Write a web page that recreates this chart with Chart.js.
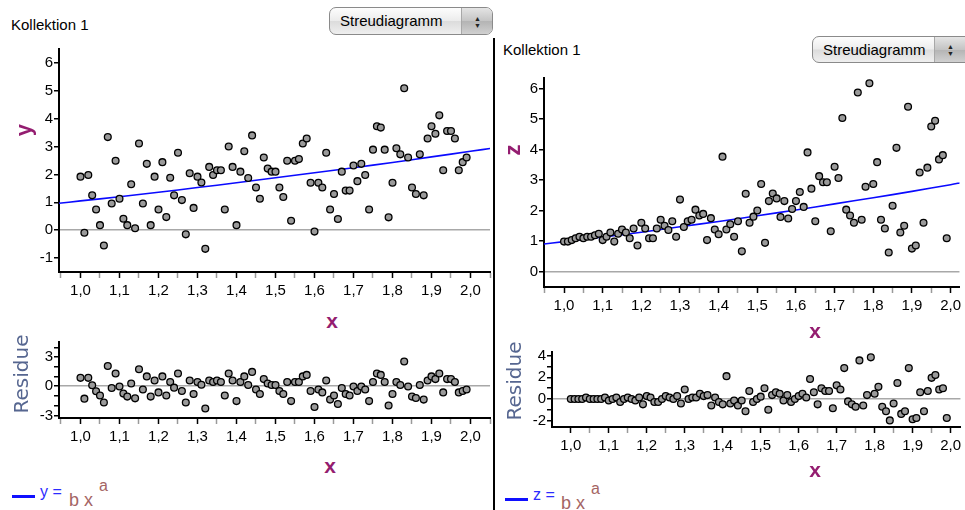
<!DOCTYPE html>
<html>
<head>
<meta charset="utf-8">
<script src="https://cdn.jsdelivr.net/npm/chart.js@4.4.0/dist/chart.umd.min.js"></script>
<style>
  body { margin: 0; width: 965px; height: 510px; position: relative; overflow: hidden; background: #fff;
         font-family: "Liberation Sans", Arial, sans-serif; }
  canvas { position: absolute; }
  .t { position: absolute; white-space: nowrap; line-height: 1; }
  .ctr { position: absolute; white-space: nowrap; line-height: 1; transform: translate(-50%, -50%); }
  .rot { position: absolute; white-space: nowrap; line-height: 1; transform: translate(-50%, -50%) rotate(-90deg); }
  .axt { font-weight: bold; font-size: 21px; color: #941d70; }
  .res { font-family: "DejaVu Sans", sans-serif; font-size: 20px; color: #566690; }
  .btn { position: absolute; box-sizing: border-box; border: 1px solid #8a8a8a; border-radius: 7px; overflow: hidden;
         background: linear-gradient(#fdfdfd, #ececec 48%, #dcdcdc 52%, #efefef); }
  .btn .lab { position: absolute; left: 10px; top: 5px; font-size: 15px; line-height: 1; }
  .btn .arr { position: absolute; right: 0; top: 0; bottom: 0; width: 30px; border-left: 1px solid #a8a8a8;
              background: linear-gradient(#e4e4e4, #c4c4c4 50%, #b4b4b4 52%, #d0d0d0); }
  .btn .arr span { position: absolute; left: 12px; font-size: 7px; line-height: 1; color: #222; }
  .sep { position: absolute; left: 493px; top: 38px; width: 2px; height: 472px; background: #000; }
  .lg { position: absolute; height: 2.5px; width: 23px; background: #1010ff; }
</style>
</head>
<body>

<div class="t" style="left:11px;top:17px;font-size:15px">Kollektion 1</div>
<div class="btn" style="left:329px;top:7px;width:164px;height:28px">
  <div class="lab">Streudiagramm</div>
  <div class="arr"><span style="top:7px">▲</span><span style="top:14px">▼</span></div>
</div>
<div class="t" style="left:503px;top:42px;font-size:15px">Kollektion 1</div>
<div class="btn" style="left:812px;top:36px;width:166px;height:27px">
  <div class="lab">Streudiagramm</div>
  <div class="arr" style="right:12px"><span style="top:6px">▲</span><span style="top:13px">▼</span></div>
</div>

<div class="sep"></div>

<canvas id="leftMain"></canvas>
<canvas id="leftRes"></canvas>
<canvas id="rightMain"></canvas>
<canvas id="rightRes"></canvas>

<div class="rot axt" style="left:24px;top:130px;font-size:22px">y</div>
<div class="rot axt" style="left:513px;top:150px;font-size:22px">z</div>
<div class="rot res" style="left:21px;top:374px">Residue</div>
<div class="rot res" style="left:514px;top:381px">Residue</div>
<div class="ctr axt" style="left:332px;top:320px">x</div>
<div class="ctr axt" style="left:330px;top:465px">x</div>
<div class="ctr axt" style="left:815px;top:330px">x</div>
<div class="ctr axt" style="left:815px;top:469px">x</div>

<div class="lg" style="left:12px;top:495px"></div>
<div class="t" style="left:40px;top:484px;font-size:16px;color:#2b2bff">y =</div>
<div class="t" style="left:69px;top:491px;font-size:18px;color:#a46464">b x</div>
<div class="t" style="left:99px;top:478px;font-size:16px;color:#a46464">a</div>

<div class="lg" style="left:505px;top:498px"></div>
<div class="t" style="left:533px;top:487px;font-size:16px;color:#2b2bff">z =</div>
<div class="t" style="left:561px;top:494px;font-size:18px;color:#a46464">b x</div>
<div class="t" style="left:591px;top:481px;font-size:16px;color:#a46464">a</div>

<script>
// x values (same for both collections)
const xValues = [
  1.00, 1.01, 1.02, 1.03, 1.04, 1.05, 1.06, 1.07, 1.08, 1.09,
  1.10, 1.11, 1.12, 1.13, 1.14, 1.15, 1.16, 1.17, 1.18, 1.19,
  1.20, 1.21, 1.22, 1.23, 1.24, 1.25, 1.26, 1.27, 1.28, 1.29,
  1.30, 1.31, 1.32, 1.33, 1.34, 1.35, 1.36, 1.37, 1.38, 1.39,
  1.40, 1.41, 1.42, 1.43, 1.44, 1.45, 1.46, 1.47, 1.48, 1.49,
  1.50, 1.51, 1.52, 1.53, 1.54, 1.55, 1.56, 1.57, 1.58, 1.59,
  1.60, 1.61, 1.62, 1.63, 1.64, 1.65, 1.66, 1.67, 1.68, 1.69,
  1.70, 1.71, 1.72, 1.73, 1.74, 1.75, 1.76, 1.77, 1.78, 1.79,
  1.80, 1.81, 1.82, 1.83, 1.84, 1.85, 1.86, 1.87, 1.88, 1.89,
  1.90, 1.91, 1.92, 1.93, 1.94, 1.95, 1.96, 1.97, 1.98, 1.99
];

// left collection: y
const yValues = [
  1.92, -0.09, 1.98, 1.25, 0.74, 0.18, -0.55, 3.34, 0.96, 2.49,
  1.13, 0.41, 0.18, 1.65, 0.07, 3.11, 0.96, 2.38, 0.18, 1.92,
  0.74, 2.44, 0.47, 1.88, 1.25, 2.78, 1.08, -0.15, 2.04, 0.80,
  1.92, 1.71, -0.67, 2.27, 1.98, 2.15, 2.15, 0.74, 3.00, 2.27,
  0.18, 2.10, 2.83, 1.87, 3.40, 1.53, 1.13, 2.61, 2.21, 2.10,
  2.10, 1.53, 1.19, 2.49, 0.34, 2.49, 2.55, 3.11, 3.29, 1.70,
  -0.05, 1.70, 1.53, 2.78, 0.74, 1.30, 0.40, 2.10, 1.42, 1.42,
  2.32, 1.76, 2.38, 1.98, 0.74, 2.89, 3.73, 3.68, 2.89, 0.46,
  1.70, 2.94, 2.72, 5.09, 2.61, 1.53, 1.30, 2.72, 1.25, 3.29,
  3.73, 3.46, 4.12, 2.15, 3.56, 3.56, 3.29, 2.15, 2.44, 2.61
];
const yResiduals = [
  0.86, -1.28, 0.86, 0.10, -0.52, -0.95, -1.68, 2.08, -0.18, 1.31,
  -0.03, -0.76, -1.07, 0.28, -1.25, 1.74, -0.34, 1.01, -1.07, 0.58,
  -0.64, 1.01, -0.95, 0.43, -0.15, 1.31, -0.49, -1.68, 0.58, -0.80,
  0.43, 0.15, -2.29, 0.58, 0.43, 0.58, 0.43, -0.95, 1.31, 0.58,
  -1.53, 0.43, 1.01, 0.12, 1.47, -0.34, -0.80, 0.73, 0.28, 0.12,
  0.12, -0.49, -0.80, 0.43, -1.53, 0.43, 0.43, 1.01, 1.16, -0.49,
  -2.14, -0.34, -0.64, 0.58, -1.38, -0.95, -1.83, -0.18, -0.80, -0.95,
  -0.03, -0.49, -0.03, -0.34, -1.53, 0.43, 1.31, 1.16, 0.43, -1.99,
  -0.80, 0.43, 0.12, 2.54, -0.03, -1.07, -1.22, 0.12, -1.38, 0.58,
  1.01, 0.73, 1.31, -0.64, 0.73, 0.73, 0.43, -0.64, -0.49, -0.34
];
// fitted curve y = b x^a
const yFitX = [0.94, 1.0, 1.1, 1.2, 1.3, 1.4, 1.5, 1.6, 1.7, 1.8, 1.9, 2.0, 2.06];
const yFitY = [0.96, 1.05, 1.20, 1.36, 1.53, 1.70, 1.88, 2.06, 2.24, 2.43, 2.63, 2.83, 2.95];

// right collection: z
const zValues = [
  0.98, 0.98, 1.03, 1.09, 1.14, 1.09, 1.14, 1.14, 1.19, 1.24,
  1.03, 1.14, 1.28, 0.98, 1.24, 1.38, 1.28, 1.09, 1.41, 0.85,
  1.60, 1.41, 1.09, 1.09, 1.41, 1.70, 1.50, 1.36, 1.65, 1.14,
  2.36, 1.46, 1.65, 1.70, 2.03, 1.84, 1.89, 1.03, 1.75, 1.38,
  1.22, 3.77, 1.38, 1.55, 1.14, 1.65, 0.66, 2.55, 1.60, 1.80,
  2.00, 2.87, 0.94, 2.31, 2.56, 2.40, 1.79, 2.31, 1.74, 2.05,
  2.31, 2.61, 2.12, 3.91, 2.72, 1.65, 3.13, 2.93, 2.93, 1.32,
  3.44, 3.07, 5.04, 2.03, 1.84, 1.60, 5.88, 1.70, 2.78, 6.18,
  2.87, 3.59, 1.70, 1.41, 0.62, 2.16, 4.06, 1.28, 1.50, 5.41,
  0.75, 0.85, 3.25, 1.60, 3.41, 4.76, 4.95, 3.68, 3.82, 1.09
];
const zResiduals = [
  0, 0, 0, 0, 0.14, 0, 0, 0, 0, 0.14,
  -0.14, 0, 0.14, -0.27, 0, 0.14, 0, -0.14, 0.14, -0.49,
  0.27, 0.14, -0.27, -0.27, 0, 0.27, 0.14, 0, 0.27, -0.41,
  0.88, 0, 0.14, 0.14, 0.49, 0.27, 0.36, -0.60, 0.14, -0.27,
  -0.49, 2.11, -0.41, -0.14, -0.60, -0.14, -1.12, 0.74, -0.27, 0,
  0.22, 0.99, -0.99, 0.36, 0.63, 0.49, -0.14, 0.36, -0.27, 0,
  0.27, 0.49, 0.14, 1.84, 0.63, -0.49, 0.99, 0.74, 0.74, -0.85,
  1.26, 0.88, 2.85, -0.22, -0.49, -0.71, 3.56, -0.60, 0.36, 3.84,
  0.49, 1.12, -0.71, -1.12, -1.97, -0.41, 1.48, -1.37, -1.12, 2.85,
  -1.86, -1.75, 0.63, -1.12, 0.74, 1.95, 2.22, 0.88, 0.99, -1.75
];
const zFitX = [0.94, 1.0, 1.1, 1.2, 1.3, 1.4, 1.5, 1.6, 1.7, 1.8, 1.9, 2.0, 2.03];
const zFitY = [0.89, 0.98, 1.13, 1.29, 1.47, 1.64, 1.83, 2.02, 2.22, 2.42, 2.63, 2.85, 2.92];

// y-axis tick positions and which of them carry a label
const yMainTicks = [-1, 0, 1, 2, 3, 4, 5, 6];
const yResTicks = [-3, -2, -1, 0, 1, 2, 3, 4];
const yResLabels = [-3, 0, 3];
const zMainTicks = [0, 1, 2, 3, 4, 5, 6];
const zResTicks = [-2, -1, 0, 1, 2, 3, 4];
const zResLabels = [-2, 0, 2, 4];

const FONT = { family: '"Liberation Sans", Arial, sans-serif', size: 15 };
const AX_W = 45, AX_H = 35;

const isMajor = v => Math.abs(Math.round(v * 10) - v * 10) < 1e-6;

function pts(xs, ys) {
  return xs.map((x, i) => ({ x: x, y: ys[i] }));
}

function scatterSet(xs, ys) {
  return {
    type: 'scatter',
    data: pts(xs, ys),
    pointRadius: 3.4,
    pointBorderWidth: 1.3,
    pointBackgroundColor: '#9a9a9a',
    pointBorderColor: '#000',
    clip: false
  };
}

function fitSet(xs, ys) {
  return {
    type: 'line',
    data: pts(xs, ys),
    borderColor: '#0a0aff',
    borderWidth: 1.6,
    pointRadius: 0,
    tension: 0.4,
    fill: false
  };
}

// area = chart area in page pixels
function panel(id, area, xr, yr, yTicks, yLabels, datasets) {
  const c = document.getElementById(id);
  c.style.left = (area.l - AX_W) + 'px';
  c.style.top = area.t + 'px';
  c.width = area.r - area.l + AX_W;
  c.height = area.b - area.t + AX_H;

  new Chart(c, {
    type: 'scatter',
    data: { datasets: datasets },
    options: {
      responsive: false,
      animation: false,
      devicePixelRatio: 1,
      layout: { padding: 0, autoPadding: false },
      plugins: { legend: { display: false }, tooltip: { enabled: false } },
      scales: {
        x: {
          type: 'linear',
          min: xr[0], max: xr[1],
          afterFit: s => { s.height = AX_H; },
          border: { display: true, color: '#000', width: 2 },
          grid: {
            drawOnChartArea: false, drawTicks: true, tickLength: 6, tickWidth: 1.5,
            tickColor: ctx => (ctx.tick && isMajor(ctx.tick.value)) ? '#000' : '#9a9a9a'
          },
          ticks: {
            stepSize: 0.05, includeBounds: false, autoSkip: false, maxRotation: 0, minRotation: 0,
            padding: 4, color: '#000', font: FONT,
            callback: v => isMajor(v) ? v.toFixed(1).replace('.', ',') : ''
          }
        },
        y: {
          type: 'linear',
          min: yr[0], max: yr[1],
          afterFit: s => { s.width = AX_W; },
          afterBuildTicks: s => { s.ticks = yTicks.map(v => ({ value: v })); },
          border: { display: true, color: '#000', width: 2 },
          grid: {
            drawOnChartArea: true, drawTicks: true, tickLength: 5, tickWidth: 1.5, tickColor: '#000',
            lineWidth: 1.5,
            color: ctx => (ctx.tick && ctx.tick.value === 0) ? '#a8a8a8' : 'rgba(0,0,0,0)'
          },
          ticks: {
            autoSkip: false, padding: 1, color: '#000', font: FONT,
            callback: v => (yLabels.indexOf(v) >= 0) ? String(v) : ''
          }
        }
      }
    }
  });
}

panel('leftMain', { l: 59, t: 39, r: 494, b: 272 }, [0.9449, 2.0501], [-1.5, 6.5],
  yMainTicks, yMainTicks, [scatterSet(xValues, yValues), fitSet(yFitX, yFitY)]);
panel('leftRes', { l: 59, t: 332, r: 494, b: 418 }, [0.9449, 2.0501], [-3.27, 4.545],
  yResTicks, yResLabels, [scatterSet(xValues, yResiduals)]);
panel('rightMain', { l: 544, t: 68, r: 965, b: 287 }, [0.9482, 2.0230], [-0.511, 6.354],
  zMainTicks, zMainTicks, [scatterSet(xValues, zValues), fitSet(zFitX, zFitY)]);
panel('rightRes', { l: 552, t: 342, r: 965, b: 427 }, [0.9505, 2.0260], [-2.577, 4.333],
  zResTicks, zResLabels, [scatterSet(xValues, zResiduals)]);
</script>
</body>
</html>
